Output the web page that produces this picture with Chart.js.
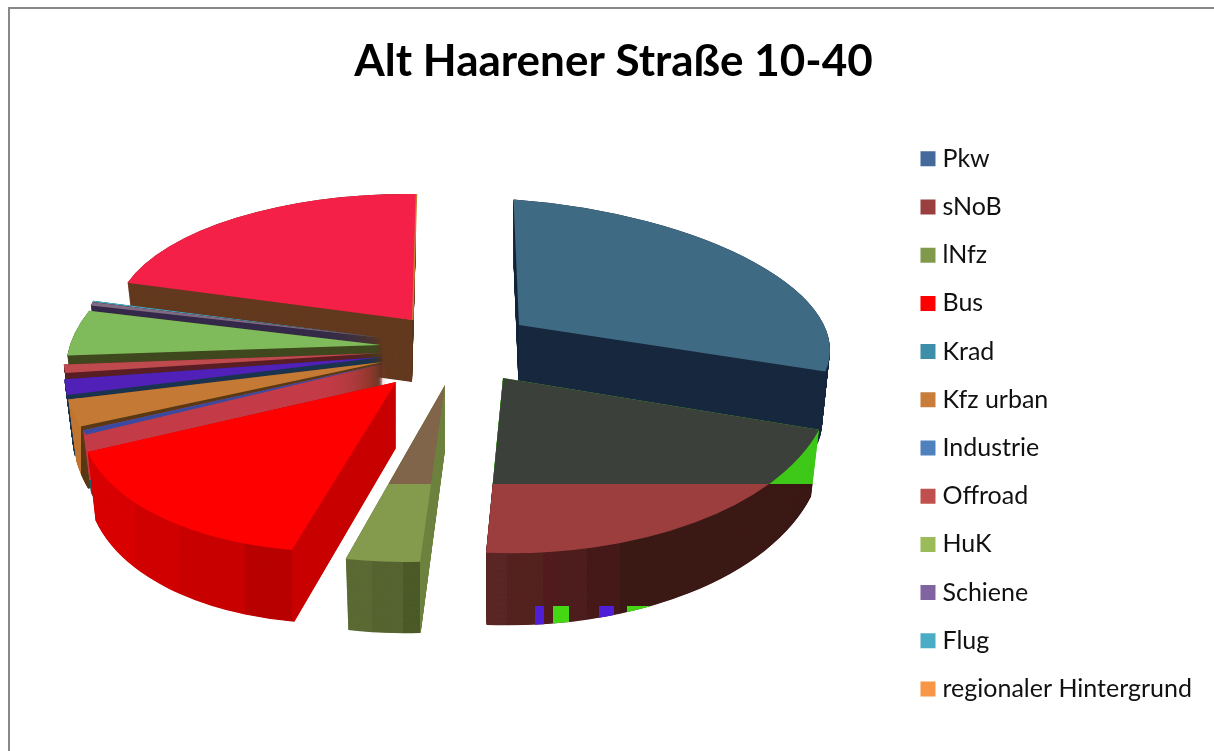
<!DOCTYPE html>
<html>
<head>
<meta charset="utf-8">
<title>Alt Haarener Straße 10-40</title>
<script src="https://cdn.jsdelivr.net/npm/chart.js@4/dist/chart.umd.min.js"></script>
<style>
  html, body { margin: 0; background: #fff; overflow: hidden; }
  #frame { position: absolute; left: 8px; top: 7px; width: 1206px; height: 744px; border-left: 2px solid #888; border-top: 2px solid #888; }
  #myChart { position: absolute; left: 0; top: 0; }
</style>
</head>
<body>
<div id="frame"></div>
<canvas id="myChart" width="1214" height="751"></canvas>
<script>
const categories = ['Pkw', 'sNoB', 'lNfz', 'Bus', 'Krad', 'Kfz urban', 'Industrie', 'Offroad', 'HuK', 'Schiene', 'Flug', 'regionaler Hintergrund'];
const shares = [28.06, 21.39, 3.75, 15.83, 0.42, 2.5, 1.39, 0.83, 4.72, 0.42, 0.14, 20.55];
const legendColors = ['#44699b', '#9a3f3f', '#80994a', '#ff0000', '#3d8ea8', '#c97d3b', '#4f81bd', '#c0504d', '#9bbb59', '#8064a2', '#4bacc6', '#f79646'];

// fake 3d view of each slice: where its tip sits, its radius and how it is flattened
const tipX = [519, 503, 445, 396, 387, 383, 383, 383, 381, 383, 383, 412];
const tipY = [325, 378, 385, 382, 363, 362, 357, 353, 345, 338, 338, 320];
const radius = [311, 327, 320, 314, 318, 319, 318, 320, 311, 300, 300, 297];
const flat = [0.402, 0.532, 0.553, 0.541, 0.59, 0.565, 0.575, 0.515, 0.489, 0.48, 0.48, 0.424];
const lean = [0, -0.104, -0.13, -0.152, -0.06, -0.04, -0.075, 0, -0.16, 0, 0, -0.03];
const tilt = [0.081, 0.067, 0, -0.017, 0, 0, 0, 0, 0, 0, 0, 0.016];
const depth = [72, 66, 65, 66, 60, 60, 60, 60, 60, 60, 60, 62];
const drawOrder = [11, 10, 9, 8, 7, 6, 5, 4, 3, 2, 0, 1];
// bottom face is a bit narrower and a bit deeper than the top face
const taperX = 0.025;
const taperY = 0.035;

// paint lists: colour plus optional x0, x1, y0, y1 window (the original render has hard colour bands)
const topPaint = [
  [['#3f6a84']],
  [['#3c403b', 0, 1214, 0, 484], ['#9c3e3e', 0, 1214, 484, 751]],
  [['#80654a', 0, 1214, 0, 484], ['#849a4c', 0, 1214, 484, 751]],
  [['#ff0000']],
  [['#3a4aa0']],
  [['#c47935']],
  [['#5020b8']],
  [['#be4a4e']],
  [['#7fbb5a']],
  [['#7f6a82']],
  [['#4bacc6']],
  [['#f42048']]
];
const sidePaint = [
  [['#18293f']],
  [['#3ec818', 0, 1214, 0, 484], ['#3c1a16', 620, 1214, 484, 751], ['#5a2626', 0, 507, 484, 751], ['#54221f', 507, 543, 484, 751],
   ['#521c1e', 543, 558, 484, 751], ['#4e1e1e', 558, 587, 484, 751], ['#471a1a', 587, 620, 484, 751],
   ['#5020d8', 535, 544, 606, 751], ['#45d815', 553, 569, 606, 751], ['#5020d8', 599, 614, 606, 751], ['#45d815', 627, 660, 606, 751]],
  [['#6f8440', 420, 1214, 0, 751], ['#5b6a34', 0, 372, 0, 751], ['#566431', 372, 403, 0, 751], ['#4c5a29', 403, 420, 0, 751]],
  [['#c80000', 292, 1214, 0, 751], ['#d80000', 0, 135, 0, 751], ['#d00000', 135, 180, 0, 751], ['#c80000', 180, 245, 0, 751], ['#b80000', 245, 292, 0, 751]],
  [['#c43c48', 0, 1214, 0, 480], ['#1f5f70', 0, 1214, 480, 751]],
  [['#c07733', 0, 81, 0, 751], ['#5a3a15', 81, 1214, 0, 751]],
  [['#1b3550']],
  [['#5a1f25']],
  [['#40491f']],
  [['#352a4a']],
  [['#1f5f70']],
  [['#633a1f']]
];

function drawLayer(ctx, arc, i, d, color) {
  const scale = radius[i] / arc.outerRadius;
  const t = d / depth[i];
  const sx = scale * (1 - taperX * t);
  const sy = scale * (1 + taperY * t);
  ctx.save();
  ctx.transform(sx, sx * tilt[i], sx * lean[i], sy * flat[i], tipX[i], tipY[i] + d);
  ctx.translate(-arc.x, -arc.y);
  arc.options = Object.assign({}, arc.$base, { backgroundColor: color });
  arc.draw(ctx);
  ctx.restore();
}

function paintSlice(ctx, arc, i, paint, fromDepth) {
  paint.forEach(function (p) {
    ctx.save();
    if (p.length > 1) {
      ctx.beginPath();
      ctx.rect(p[1], p[3], p[2] - p[1], p[4] - p[3]);
      ctx.clip();
    }
    // half pixel steps, the thin wedges leave gaps near the tip otherwise
    for (let d = fromDepth; d >= 0; d -= 0.5) {
      drawLayer(ctx, arc, i, d, p[0]);
    }
    ctx.restore();
  });
}

const pie3d = {
  id: 'pie3d',
  beforeDatasetsDraw(chart) {
    const ctx = chart.ctx;
    const arcs = chart.getDatasetMeta(0).data;
    drawOrder.forEach(function (i) {
      arcs[i].$base = arcs[i].$base || arcs[i].options;
      paintSlice(ctx, arcs[i], i, sidePaint[i], depth[i]);
      if (i === 11) {
        // thin orange rim on the right edge of the big crimson slice
        ctx.save();
        ctx.translate(1.5, 0);
        paintSlice(ctx, arcs[i], i, [['#c87c35', 400, 1214, 0, 751]], 0);
        ctx.restore();
      }
      paintSlice(ctx, arcs[i], i, topPaint[i], 0);
    });
    return false;
  }
};

new Chart(document.getElementById('myChart'), {
  type: 'pie',
  data: {
    labels: categories,
    datasets: [{ data: shares, backgroundColor: legendColors, borderWidth: 0 }]
  },
  options: {
    responsive: false,
    animation: false,
    rotation: -1,
    layout: { padding: { left: 25, right: 12, top: 0, bottom: 22 } },
    plugins: {
      title: {
        display: true,
        text: 'Alt Haarener Straße 10-40',
        color: '#000',
        font: { family: 'Lato', size: 44, weight: 'bold' },
        padding: { top: 35, bottom: 31 }
      },
      legend: {
        position: 'right',
        fullSize: false,
        labels: {
          color: '#111',
          font: { family: 'Lato', size: 25 },
          boxWidth: 4,
          boxHeight: 4,
          padding: 23.2,
          generateLabels(chart) {
            return Chart.controllers.pie.overrides.plugins.legend.labels.generateLabels(chart).map(function (item) {
              return Object.assign(item, { lineWidth: 11, strokeStyle: item.fillStyle });
            });
          }
        }
      },
      tooltip: { enabled: false }
    }
  },
  plugins: [pie3d]
});
</script>
</body>
</html>
